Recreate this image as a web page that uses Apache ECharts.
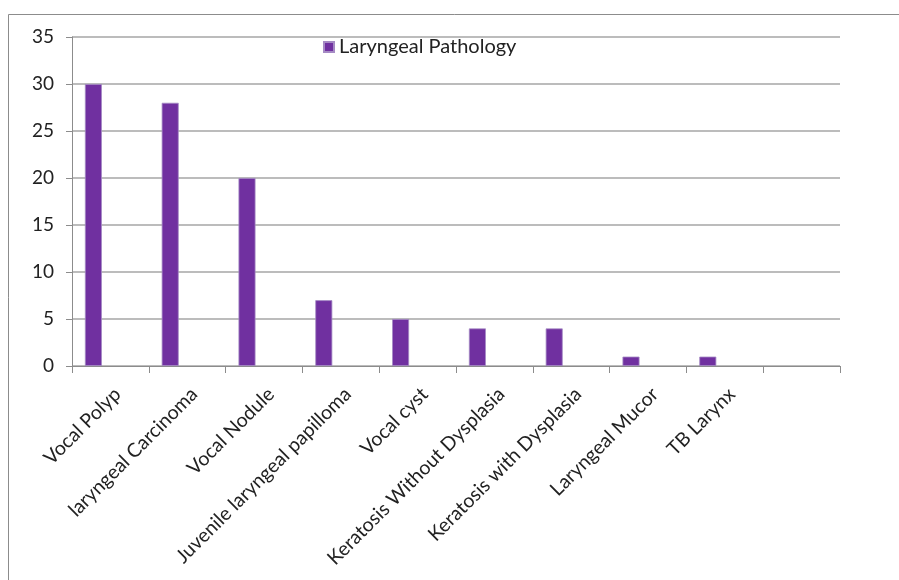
<!DOCTYPE html>
<html><head><meta charset="utf-8">
<script src="https://cdn.jsdelivr.net/npm/echarts@6/dist/echarts.min.js"></script>
<style>html,body{margin:0;padding:0;background:#fff}#c{width:899px;height:580px}</style>
</head><body><div id="c"></div>
<script>
const categories = ['Vocal Polyp','laryngeal Carcinoma','Vocal Nodule','Juvenile laryngeal papilloma','Vocal cyst','Keratosis Without Dysplasia','Keratosis with Dysplasia','Laryngeal Mucor','TB Larynx',''];
const values = [30, 28, 20, 7, 5, 4, 4, 1, 1, null];
const seriesName = 'Laryngeal Pathology';
const yTicks = {min: 0, max: 35, interval: 5};

const chart = echarts.init(document.getElementById('c'), null, {renderer: 'canvas'});
const font = 'Lato, "Open Sans", sans-serif';
chart.setOption({
  animation: false,
  backgroundColor: '#fff',
  graphic: [{type: 'rect', shape: {x: 8.5, y: 14.5, width: 1000, height: 1000}, style: {fill: 'none', stroke: '#8c8c8c', lineWidth: 1}}],
  legend: {
    data: [seriesName], left: 323, top: 37, padding: 0, itemWidth: 10, itemHeight: 10, icon: 'rect',
    textStyle: {fontFamily: font, fontSize: 20, color: '#222', padding: [0, 0, 0, 0]}
  },
  grid: {left: 72, right: 59, top: 37, bottom: 214},
  xAxis: {
    type: 'category', data: categories,
    axisLine: {lineStyle: {color: '#8c8c8c', width: 1}},
    axisTick: {show: true, length: 7, alignWithLabel: false, lineStyle: {color: '#8c8c8c'}},
    axisLabel: {rotate: 45, interval: 0, margin: 18, verticalAlign: 'top', fontFamily: font, fontSize: 19.5, color: '#222'}
  },
  yAxis: {
    type: 'value', min: yTicks.min, max: yTicks.max, interval: yTicks.interval,
    axisLine: {show: true, lineStyle: {color: '#8c8c8c', width: 1}},
    axisTick: {show: true, length: 6, lineStyle: {color: '#8c8c8c'}},
    splitLine: {lineStyle: {color: '#a6a6a6', width: 1.5}},
    axisLabel: {margin: 18, fontFamily: font, fontSize: 19, color: '#222'}
  },
  series: [
    {name: seriesName, type: 'bar', data: values, barWidth: 17, barGap: '0%',
     itemStyle: {color: '#7030A0', borderColor: '#a58ac4', borderWidth: 0.8}},
    {name: 'empty1', type: 'bar', data: [], barWidth: 17, barGap: '0%'},
    {name: 'empty2', type: 'bar', data: [], barWidth: 17, barGap: '0%'}
  ]
});
</script></body></html>
